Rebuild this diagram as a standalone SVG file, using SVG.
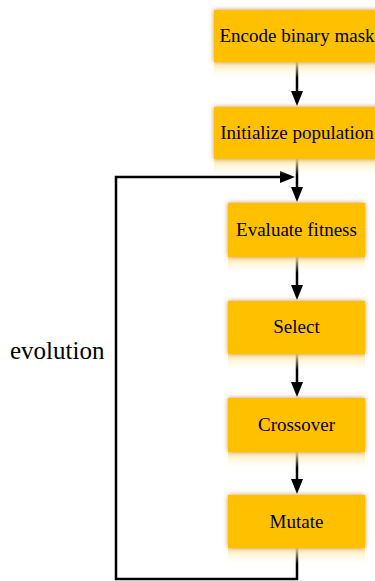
<svg xmlns="http://www.w3.org/2000/svg" width="375" height="581" viewBox="0 0 375 581">
<style>
.box{fill:#FFC000;filter:url(#glow)}
.refl{fill:url(#rg)}
.lbl{font-family:"Liberation Serif","Times New Roman",serif;font-size:19px;fill:#000;text-anchor:middle}
.edge{stroke:#000;stroke-width:2.5;fill:none}
</style>
<defs>
<filter id="glow" x="-20%" y="-30%" width="140%" height="160%">
<feGaussianBlur in="SourceAlpha" stdDeviation="2.5" result="b"/>
<feFlood flood-color="#C0804A" flood-opacity="0.9"/>
<feComposite in2="b" operator="in" result="s"/>
<feMerge><feMergeNode in="s"/><feMergeNode in="SourceGraphic"/></feMerge>
</filter>
<linearGradient id="rg" x1="0" y1="0" x2="0" y2="1">
<stop offset="0" stop-color="#FFE9A0" stop-opacity="0.9"/>
<stop offset="1" stop-color="#FFF6D8" stop-opacity="0"/>
</linearGradient>
</defs>
<g id="connectors">
<line class="edge" x1="297" y1="62" x2="297" y2="93"/>
<path d="M291,91 L303,91 L297,106 Z" fill="#000"/>
<line class="edge" x1="297" y1="159" x2="297" y2="189"/>
<path d="M291,187 L303,187 L297,202 Z" fill="#000"/>
<line class="edge" x1="297" y1="257" x2="297" y2="287"/>
<path d="M291,285 L303,285 L297,300 Z" fill="#000"/>
<line class="edge" x1="297" y1="354" x2="297" y2="384"/>
<path d="M291,382 L303,382 L297,397 Z" fill="#000"/>
<line class="edge" x1="297" y1="452" x2="297" y2="481"/>
<path d="M291,479 L303,479 L297,494 Z" fill="#000"/>
<path class="edge" d="M297,548 V579 H116 V177 H282"/>
<path d="M280,171 L280,183 L295,177 Z" fill="#000"/>
</g>
<g id="encode">
<rect class="refl" x="214" y="62" width="166" height="16"/>
<rect class="box" x="214" y="10" width="166" height="52"/>
<text class="lbl" x="297" y="42">Encode binary mask</text>
</g>
<g id="initialize">
<rect class="refl" x="214" y="159" width="166" height="16"/>
<rect class="box" x="214" y="107" width="166" height="52"/>
<text class="lbl" x="297" y="139">Initialize population</text>
</g>
<g id="evaluate">
<rect class="refl" x="228" y="257" width="137" height="16"/>
<rect class="box" x="228" y="203" width="137" height="54"/>
<text class="lbl" x="296.5" y="236">Evaluate fitness</text>
</g>
<g id="select">
<rect class="refl" x="228" y="354" width="137" height="16"/>
<rect class="box" x="228" y="301" width="137" height="53"/>
<text class="lbl" x="296.5" y="333">Select</text>
</g>
<g id="crossover">
<rect class="refl" x="228" y="452" width="137" height="16"/>
<rect class="box" x="228" y="398" width="137" height="54"/>
<text class="lbl" x="296.5" y="431">Crossover</text>
</g>
<g id="mutate">
<rect class="refl" x="228" y="548" width="137" height="16"/>
<rect class="box" x="228" y="495" width="137" height="53"/>
<text class="lbl" x="296.5" y="528">Mutate</text>
</g>
<text x="10" y="359" style="font-family:'Liberation Serif','Times New Roman',serif;font-size:25px;fill:#000">evolution</text>
</svg>
